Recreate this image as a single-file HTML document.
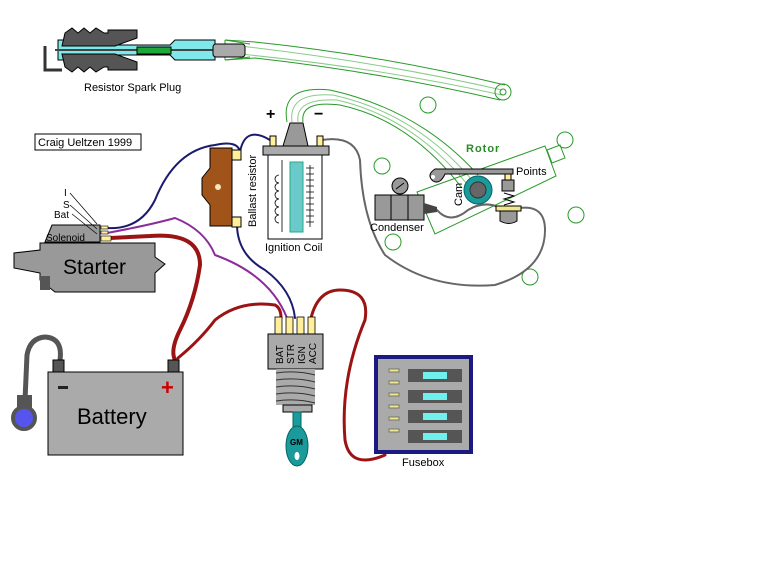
<!DOCTYPE html>
<html><head><meta charset="utf-8"><style>
html,body{margin:0;padding:0;background:#fff;width:768px;height:576px;overflow:hidden}
svg{display:block}
text{font-family:"Liberation Sans",sans-serif;fill:#000}
</style></head><body>
<svg width="768" height="576" viewBox="0 0 768 576" xmlns="http://www.w3.org/2000/svg">
<!-- spark plug wire (green outlines) -->
<g fill="none" stroke="#2a9a2a" stroke-width="1">
<path d="M225,40 L255,42 Q380,55 505,85"/>
<path d="M225,60 L255,58 Q380,72 500,100"/>
<path d="M240,46 Q380,62 502,90" stroke="#8c8"/>
<path d="M240,54 Q380,68 502,95" stroke="#8c8"/>
<path d="M225,40 L225,60 M225,40 L250,44 M225,60 L250,57"/>
<circle cx="503" cy="92" r="8"/>
<circle cx="503" cy="92" r="3"/>
<!-- coil wire -->
<path d="M287,122 Q280,85 330,90 Q420,110 478,175"/>
<path d="M303,122 Q300,100 340,105 Q410,120 462,188"/>
<path d="M292,122 Q288,92 333,95 Q415,113 472,180" stroke="#8c8"/>
<path d="M298,122 Q295,98 337,100 Q412,117 467,184" stroke="#8c8"/>
<circle cx="428" cy="105" r="8"/>
<circle cx="382" cy="166" r="8"/>
<circle cx="565" cy="140" r="8"/>
<circle cx="576" cy="215" r="8"/>
<circle cx="393" cy="242" r="8"/>
<circle cx="530" cy="277" r="8"/>
<!-- distributor plate -->
<polygon points="417,192 545,146 556,176 435,234"/>
<polygon points="547,150 560,145 565,158 552,163"/>
</g>
<!-- spark plug -->
<path d="M45,46 L45,70 L62,70" fill="none" stroke="#333" stroke-width="3"/>
<polygon points="58,40 100,40 115,45 170,45 175,40 215,40 215,60 175,60 170,55 115,55 100,60 58,60" fill="#7fe8ea" stroke="#000" stroke-width="1"/>
<polygon points="65,33 72,28 78,33 84,28 90,33 96,28 104,33 108,33 108,30 137,30 137,38 115,46 62,46" fill="#555" stroke="#000"/>
<polygon points="62,54 115,54 137,62 137,70 108,70 108,67 104,67 96,72 90,67 84,72 78,67 72,72 65,67" fill="#555" stroke="#000"/>
<line x1="55" y1="50" x2="215" y2="50" stroke="#444" stroke-width="2"/>
<rect x="137" y="47" width="34" height="7" fill="#1fa83a" stroke="#000"/>
<rect x="213" y="44" width="32" height="13" rx="3" fill="#aaa" stroke="#000"/>
<text x="84" y="91" font-size="11">Resistor Spark Plug</text>
<!-- copyright -->
<rect x="35" y="134" width="106" height="16" fill="#fff" stroke="#000"/>
<text x="38" y="146" font-size="11">Craig Ueltzen 1999</text>
<!-- wires -->
<g fill="none" stroke-linecap="round">
<path d="M107,228 Q140,230 155,200 Q175,150 215,145 Q238,140 240,152 Q245,125 270,140" stroke="#1a1a6e" stroke-width="2"/>
<path d="M237,226 Q238,255 265,270 Q292,290 295,318" stroke="#1a1a6e" stroke-width="2"/>
<path d="M107,233 Q150,225 175,218 Q205,230 215,255 Q270,275 287,318" stroke="#8b2c9b" stroke-width="2"/>
<path d="M110,238 L150,236 Q200,232 200,265 Q195,300 180,330 Q170,350 175,360" stroke="#9b1414" stroke-width="4"/>
<path d="M178,358 Q200,340 215,320 Q240,300 275,305 Q281,308 281,318" stroke="#9b1414" stroke-width="3"/>
<path d="M311,318 Q318,290 340,290 Q370,290 365,320 Q340,380 345,440 Q350,470 385,455" stroke="#9b1414" stroke-width="3"/>
<path d="M60,360 Q63,338 45,337 Q30,338 27,355 L25,400" stroke="#555" stroke-width="5"/>
<path d="M322,140 Q355,135 360,160 Q362,220 385,255 Q430,290 495,285 Q545,270 545,230 Q545,205 520,208" stroke="#666" stroke-width="2"/>
<path d="M437,210 Q450,225 468,210 Q485,200 500,208" stroke="#666" stroke-width="2"/>
</g>
<!-- ballast -->
<polygon points="218,148 232,148 232,226 210,226 210,205 202,195 202,178 210,168 210,148" fill="#a0541a" stroke="#000"/>
<circle cx="218" cy="187" r="3" fill="#f5e6c0"/>
<rect x="232" y="150" width="9" height="10" fill="#ffee9a" stroke="#000"/>
<rect x="232" y="217" width="9" height="10" fill="#ffee9a" stroke="#000"/>
<text transform="translate(256,227) rotate(-90)" font-size="11">Ballast resistor</text>
<!-- coil -->
<text x="266" y="119" font-size="16" font-weight="bold">+</text>
<text x="314" y="119" font-size="16" font-weight="bold">−</text>
<polygon points="290,123 303,123 308,146 283,146" fill="#999" stroke="#000"/>
<rect x="270" y="136" width="6" height="10" fill="#ffee9a" stroke="#000"/>
<rect x="317" y="136" width="6" height="10" fill="#ffee9a" stroke="#000"/>
<rect x="263" y="146" width="66" height="9" fill="#aaa" stroke="#000"/>
<rect x="268" y="155" width="54" height="84" fill="#fff" stroke="#000"/>
<rect x="290" y="162" width="13" height="70" fill="#6cc9c9" stroke="#2a8"/>
<g fill="none" stroke="#000" stroke-width="0.8">
<path d="M282,160 L282,232 M279,175 a4,4 0 1 0 0,8 a4,4 0 1 0 0,8 a4,4 0 1 0 0,8 a4,4 0 1 0 0,8 a4,4 0 1 0 0,8 a4,4 0 1 0 0,8"/>
<path d="M310,165 v62"/>
<path d="M306,168 h8 M306,174 h8 M306,180 h8 M306,186 h8 M306,192 h8 M306,198 h8 M306,204 h8 M306,210 h8 M306,216 h8 M306,222 h8"/>
</g>
<text x="265" y="251" font-size="11">Ignition Coil</text>
<!-- distributor parts -->
<text x="466" y="152" font-size="11" font-weight="bold" fill="#2a8a2a" style="fill:#2a8a2a;letter-spacing:1px">Rotor</text>
<path d="M435,169 L513,169 L513,174 L445,174 Q440,185 433,181 Q426,175 435,169Z" fill="#999" stroke="#000"/>
<circle cx="433" cy="177" r="2" fill="#fff"/>
<circle cx="478" cy="190" r="14" fill="#1a9a9a" stroke="#066"/>
<circle cx="478" cy="190" r="8" fill="#666" stroke="#333"/>
<text transform="translate(462,206) rotate(-90)" font-size="11">Cam</text>
<text x="516" y="175" font-size="11">Points</text>
<rect x="505" y="174" width="6" height="6" fill="#ffee9a" stroke="#000"/>
<rect x="502" y="180" width="12" height="11" fill="#999" stroke="#000"/>
<path d="M504,193 L514,196 L504,199 L514,202 L504,205" fill="none" stroke="#000"/>
<rect x="496" y="206" width="25" height="5" fill="#f0e890" stroke="#000"/>
<path d="M500,211 h17 v10 q-8,5 -17,0Z" fill="#999" stroke="#000"/>
<!-- condenser -->
<circle cx="400" cy="186" r="8" fill="#999" stroke="#000"/>
<line x1="396" y1="189" x2="404" y2="183" stroke="#000"/>
<rect x="375" y="195" width="49" height="25" fill="#999" stroke="#000"/>
<line x1="391" y1="195" x2="391" y2="220" stroke="#000"/><line x1="408" y1="195" x2="408" y2="220" stroke="#000"/>
<polygon points="424,203 437,207 437,212 424,214" fill="#444"/>
<text x="370" y="231" font-size="11">Condenser</text>
<!-- solenoid & starter -->
<polygon points="52,225 100,225 100,242 45,242" fill="#999" stroke="#000"/>
<text x="46" y="241" font-size="10">Solenoid</text>
<rect x="101" y="226" width="7" height="3" fill="#ffee9a" stroke="#000" stroke-width="0.6"/>
<rect x="101" y="231" width="7" height="3" fill="#ffee9a" stroke="#000" stroke-width="0.6"/>
<rect x="101" y="236" width="10" height="5" fill="#ffee9a" stroke="#000" stroke-width="0.6"/>
<text x="64" y="196" font-size="10">I</text><text x="63" y="208" font-size="10">S</text><text x="54" y="218" font-size="10">Bat</text>
<g stroke="#000" stroke-width="0.7"><line x1="70" y1="193" x2="97" y2="224"/><line x1="70" y1="205" x2="97" y2="229"/><line x1="72" y1="214" x2="97" y2="234"/></g>
<path d="M40,243 L155,243 L155,257 L165,264 L155,273 L155,292 L55,292 L40,280 L40,273 L14,268 L14,253 L40,250Z" fill="#999" stroke="#000"/>
<rect x="40" y="276" width="10" height="14" fill="#555"/>
<text x="63" y="274" font-size="21">Starter</text>
<!-- battery -->
<rect x="53" y="360" width="11" height="12" fill="#555" stroke="#000"/>
<rect x="168" y="360" width="11" height="12" fill="#555" stroke="#000"/>
<rect x="48" y="372" width="135" height="83" fill="#aaa" stroke="#000"/>
<rect x="58" y="386" width="10" height="3" fill="#222"/>
<text x="161" y="395" font-size="22" font-weight="bold" fill="#c00" style="fill:#c00">+</text>
<text x="77" y="424" font-size="22">Battery</text>
<circle cx="24" cy="418" r="11" fill="#5555ee" stroke="#555" stroke-width="4"/>
<rect x="17" y="395" width="15" height="14" fill="#555"/>
<!-- ignition switch -->
<g fill="#ffee9a" stroke="#000" stroke-width="0.8">
<rect x="275" y="317" width="7" height="17"/><rect x="286" y="317" width="7" height="17"/>
<rect x="297" y="317" width="7" height="17"/><rect x="308" y="317" width="7" height="17"/>
</g>
<rect x="268" y="334" width="55" height="35" fill="#aaa" stroke="#000"/>
<g font-size="10"><text transform="translate(283,364) rotate(-90)">BAT</text><text transform="translate(294,364) rotate(-90)">STR</text><text transform="translate(305,364) rotate(-90)">IGN</text><text transform="translate(316,364) rotate(-90)">ACC</text></g>
<rect x="276" y="369" width="39" height="36" fill="#aaa"/>
<g stroke="#333" fill="none"><path d="M276,373 Q296,370 315,375 M276,380 Q296,377 315,382 M276,387 Q296,384 315,389 M276,394 Q296,391 315,396 M276,401 Q296,398 315,403"/></g>
<rect x="283" y="405" width="29" height="7" fill="#aaa" stroke="#000"/>
<rect x="293" y="412" width="8" height="15" fill="#1a9a9a" stroke="#066"/>
<ellipse cx="297" cy="446" rx="11" ry="20" fill="#1a9a9a" stroke="#066"/>
<text x="290" y="445" font-size="8" font-weight="bold">GM</text>
<ellipse cx="297" cy="456" rx="2.5" ry="4" fill="#fff"/>
<!-- fusebox -->
<rect x="376" y="357" width="95" height="95" fill="#aaa" stroke="#1a1a80" stroke-width="4"/>
<g fill="#f0e890" stroke="#776"><rect x="389" y="369" width="10" height="3"/><rect x="389" y="381" width="10" height="3"/><rect x="389" y="393" width="10" height="3"/><rect x="389" y="405" width="10" height="3"/><rect x="389" y="417" width="10" height="3"/><rect x="389" y="429" width="10" height="3"/></g>
<g><rect x="408" y="369" width="54" height="13" fill="#555"/><rect x="423" y="372" width="24" height="7" fill="#6ff0ec"/>
<rect x="408" y="390" width="54" height="13" fill="#555"/><rect x="423" y="393" width="24" height="7" fill="#6ff0ec"/>
<rect x="408" y="410" width="54" height="13" fill="#555"/><rect x="423" y="413" width="24" height="7" fill="#6ff0ec"/>
<rect x="408" y="430" width="54" height="13" fill="#555"/><rect x="423" y="433" width="24" height="7" fill="#6ff0ec"/></g>
<text x="402" y="466" font-size="11">Fusebox</text>
</svg>
</body></html>
